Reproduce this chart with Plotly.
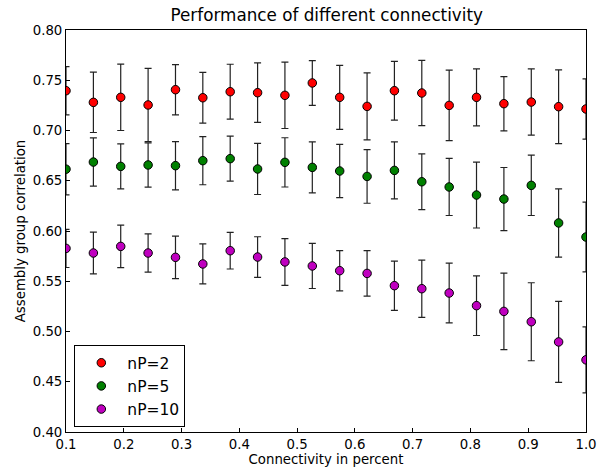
import plotly.graph_objects as go

# Connectivity fractions (x) and mean correlation +/- std for each nP setting
connectivity = [0.1, 0.1474, 0.1947, 0.2421, 0.2895, 0.3368, 0.3842, 0.4316, 0.4789, 0.5263,
                0.5737, 0.6211, 0.6684, 0.7158, 0.7632, 0.8105, 0.8579, 0.9053, 0.9526, 1.0]

corr_np2 = [0.7396, 0.728, 0.733, 0.7254, 0.7406, 0.7326, 0.7386, 0.7376, 0.735, 0.7473,
            0.733, 0.724, 0.7396, 0.7373, 0.725, 0.733, 0.7267, 0.7283, 0.7237, 0.7214]
std_np2 = [0.024, 0.030, 0.033, 0.0365, 0.025, 0.0253, 0.0273, 0.0296, 0.033, 0.0223,
           0.0318, 0.0333, 0.0292, 0.0325, 0.035, 0.0284, 0.027, 0.033, 0.0367, 0.030]

corr_np5 = [0.6615, 0.6686, 0.6643, 0.6657, 0.665, 0.670, 0.672, 0.6617, 0.6683, 0.6633,
            0.6597, 0.6543, 0.6603, 0.649, 0.6438, 0.6358, 0.6318, 0.6454, 0.608, 0.594]
std_np5 = [0.0255, 0.024, 0.0224, 0.022, 0.024, 0.024, 0.0224, 0.0254, 0.0245, 0.0253,
           0.0264, 0.0267, 0.0284, 0.0277, 0.0284, 0.0328, 0.0314, 0.030, 0.0339, 0.0347]

corr_np10 = [0.5827, 0.5781, 0.5847, 0.5781, 0.5738, 0.5672, 0.5804, 0.5741, 0.5692, 0.5652,
             0.5605, 0.5578, 0.5456, 0.5426, 0.5383, 0.5257, 0.520, 0.5097, 0.4896, 0.4718]
std_np10 = [0.019, 0.0207, 0.0211, 0.019, 0.0211, 0.0199, 0.0182, 0.0202, 0.0233, 0.0224,
            0.0200, 0.0227, 0.0245, 0.0285, 0.0298, 0.0297, 0.038, 0.0388, 0.0403, 0.0329]

series = [
    ("nP=2", corr_np2, std_np2, "#ff0000"),
    ("nP=5", corr_np5, std_np5, "#008000"),
    ("nP=10", corr_np10, std_np10, "#bf00bf"),
]

FONT = "DejaVu Sans"

fig = go.Figure()
for name, vals, errs, color in series:
    fig.add_trace(go.Scatter(
        x=connectivity, y=vals, name=name, mode="markers",
        marker=dict(color=color, size=8.5, line=dict(color="black", width=1)),
        error_y=dict(type="data", array=errs, visible=True,
                     color="#222222", thickness=1.2, width=3.5),
        cliponaxis=True,
    ))

axis_common = dict(
    showline=True, linecolor="black", linewidth=1, mirror=True,
    ticks="inside", ticklen=4, tickcolor="black", tickwidth=1,
    showgrid=False, zeroline=False, automargin=False,
    tickfont=dict(family=FONT, size=13.3, color="black"),
)

fig.update_layout(
    width=598, height=472,
    margin=dict(l=66, r=12, t=30, b=40),
    paper_bgcolor="white", plot_bgcolor="white",
    font=dict(family=FONT, color="black"),
    title=dict(text="Performance of different connectivity", x=0.5464, xanchor="center",
               y=0.968, yanchor="middle", font=dict(family=FONT, size=16.8, color="black")),
    xaxis=dict(range=[0.1, 1.0], tickvals=[0.1, 0.2, 0.3, 0.4, 0.5, 0.6, 0.7, 0.8, 0.9, 1.0],
               tickformat=".1f",
               title=dict(text="Connectivity in percent", standoff=2,
                          font=dict(family=FONT, size=13.3, color="black")),
               **axis_common),
    yaxis=dict(range=[0.4, 0.8], tickvals=[0.40, 0.45, 0.50, 0.55, 0.60, 0.65, 0.70, 0.75, 0.80],
               tickformat=".2f",
               title=dict(text="Assembly group correlation", standoff=4,
                          font=dict(family=FONT, size=13.3, color="black")),
               **axis_common),
    legend=dict(x=0.016, y=0.012, xanchor="left", yanchor="bottom",
                bgcolor="white", bordercolor="black", borderwidth=1,
                font=dict(family=FONT, size=15.5, color="black"),
                itemwidth=42, tracegroupgap=0),
    showlegend=True,
)

fig.write_html("out.html")
